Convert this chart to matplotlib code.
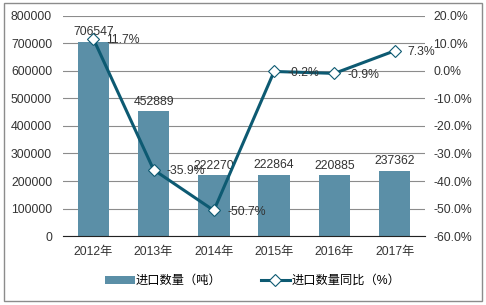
import matplotlib
matplotlib.use('Agg')
import matplotlib.pyplot as plt
from matplotlib.patches import Rectangle

plt.rcParams['font.family'] = ['Liberation Sans', 'Noto Sans CJK SC', 'DejaVu Sans']

years = ['2012年', '2013年', '2014年', '2015年', '2016年', '2017年']
import_qty = [706547, 452889, 222270, 222864, 220885, 237362]
yoy_pct = [11.7, -35.9, -50.7, -0.2, -0.9, 7.3]

bar_color = '#5B8FA7'
line_color = '#0D5A72'
text_color = '#333333'
fs = 8.8

fig = plt.figure(figsize=(4.86, 3.05), dpi=100)
ax = fig.add_axes([0.13, 0.226, 0.744, 0.722])
x = list(range(len(years)))

ax.bar(x, import_qty, width=0.52, color=bar_color, zorder=2, label='进口数量（吨）')
ax.set_ylim(0, 800000)
ax.set_yticks(range(0, 800001, 100000))
ax.set_xlim(-0.5, len(years) - 0.5)
ax.set_xticks(x)
ax.set_xticklabels(years)
ax.grid(axis='y', color='#8C8C8C', linewidth=0.8, zorder=0)
for s in ['top', 'right', 'left']:
    ax.spines[s].set_visible(False)
ax.spines['bottom'].set_color('#222222')
ax.tick_params(length=0, labelsize=fs, colors=text_color, pad=8)
ax.tick_params(axis='x', pad=7)

# value labels above bars
for xi, v in zip(x, import_qty):
    ax.text(xi, v + 12000, str(v), ha='center', va='bottom', fontsize=fs, color=text_color, zorder=5)

ax2 = ax.twinx()
ax2.plot(x, yoy_pct, color=line_color, linewidth=2.2, marker='D', markersize=6.5,
         markerfacecolor='white', markeredgecolor=line_color, markeredgewidth=0.8,
         zorder=3, label='进口数量同比（%）')
ax2.set_ylim(-60, 20)
ax2.set_yticks(range(-60, 21, 10))
ax2.set_yticklabels(['%.1f%%' % t for t in range(-60, 21, 10)])
for s in ax2.spines.values():
    s.set_visible(False)
ax2.tick_params(length=0, labelsize=fs, colors=text_color, pad=6)

# percent labels right of markers
for xi, p in zip(x, yoy_pct):
    ax2.text(xi + 0.22, p - 0.6, '%.1f%%' % p, ha='left', va='center', fontsize=fs, color=text_color, zorder=5)

h1, l1 = ax.get_legend_handles_labels()
h2, l2 = ax2.get_legend_handles_labels()
fig.legend(h1 + h2, l1 + l2, loc='center', bbox_to_anchor=(0.52, 0.078), ncol=2,
           frameon=False, fontsize=fs, handlelength=2.4, columnspacing=3.2, handletextpad=0.1)

fig.patches.append(Rectangle((0.009, 0.012), 0.982, 0.978, transform=fig.transFigure,
                             fill=False, edgecolor='#8C8C8C', linewidth=1))

fig.savefig('out.png', dpi=100)
